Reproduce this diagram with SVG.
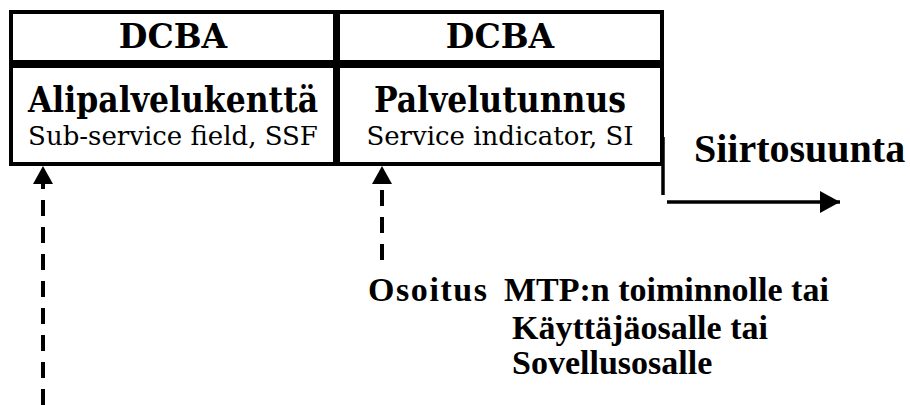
<svg xmlns="http://www.w3.org/2000/svg" width="910" height="405" viewBox="0 0 910 405">
<defs>
<style>
.cell{fill:#fff;stroke:#000;stroke-width:4}
.hd{font-family:"DejaVu Serif",serif;font-weight:bold;font-size:33px;text-anchor:middle}
.nm{font-family:"DejaVu Serif Condensed","DejaVu Serif",serif;font-stretch:condensed;font-weight:bold;font-size:35px;text-anchor:middle}
.sub{font-family:"DejaVu Serif",serif;font-size:26px;text-anchor:middle}
.lbl{font-family:"Liberation Serif","Times New Roman",serif;font-weight:bold;font-size:34px}
.big{font-size:40px}
.dash{stroke:#000;stroke-width:4;stroke-dasharray:16,11;fill:none}
.solid{stroke:#000;stroke-width:3.5;fill:none}
</style>
<marker id="ah" viewBox="0 0 20 22" refX="20" refY="11" markerWidth="20" markerHeight="22" markerUnits="userSpaceOnUse" orient="auto">
<path d="M0,0 L20,11 L0,22 Z" fill="#000"/>
</marker>
</defs>
<rect width="910" height="405" fill="#fff"/>
<g id="ssf">
<rect class="cell" x="11" y="12" width="324" height="50"/>
<rect class="cell" x="11" y="66" width="324" height="98"/>
<text class="hd" x="173" y="48">DCBA</text>
<text class="nm" x="173" y="112">Alipalvelukenttä</text>
<text class="sub" x="173" y="145">Sub-service field, SSF</text>
</g>
<g id="si">
<rect class="cell" x="338" y="12" width="324" height="50"/>
<rect class="cell" x="338" y="66" width="324" height="98"/>
<text class="hd" x="500" y="48">DCBA</text>
<text class="nm" x="500" y="112">Palvelutunnus</text>
<text class="sub" x="500" y="145">Service indicator, SI</text>
</g>
<g id="connectors">
<line class="dash" x1="43" y1="405" x2="43" y2="182"/>
<path d="M33,184 L43,166 L53,184 Z" fill="#000"/>
<line class="dash" x1="382" y1="260" x2="382" y2="182"/>
<path d="M372,184 L382,166 L392,184 Z" fill="#000"/>
<line class="solid" x1="663" y1="137" x2="663" y2="195"/>
<line class="solid" x1="667" y1="202" x2="840" y2="202" marker-end="url(#ah)"/>
</g>
<g id="direction">
<text class="lbl big" x="694" y="162">Siirtosuunta</text>
</g>
<g id="note">
<text class="lbl" x="368" y="301"><tspan textLength="119" lengthAdjust="spacing">Osoitus</tspan><tspan x="504">MTP:n toiminnolle tai</tspan></text>
<text class="lbl" x="512" y="339">Käyttäjäosalle tai</text>
<text class="lbl" x="512" y="374">Sovellusosalle</text>
</g>
</svg>
